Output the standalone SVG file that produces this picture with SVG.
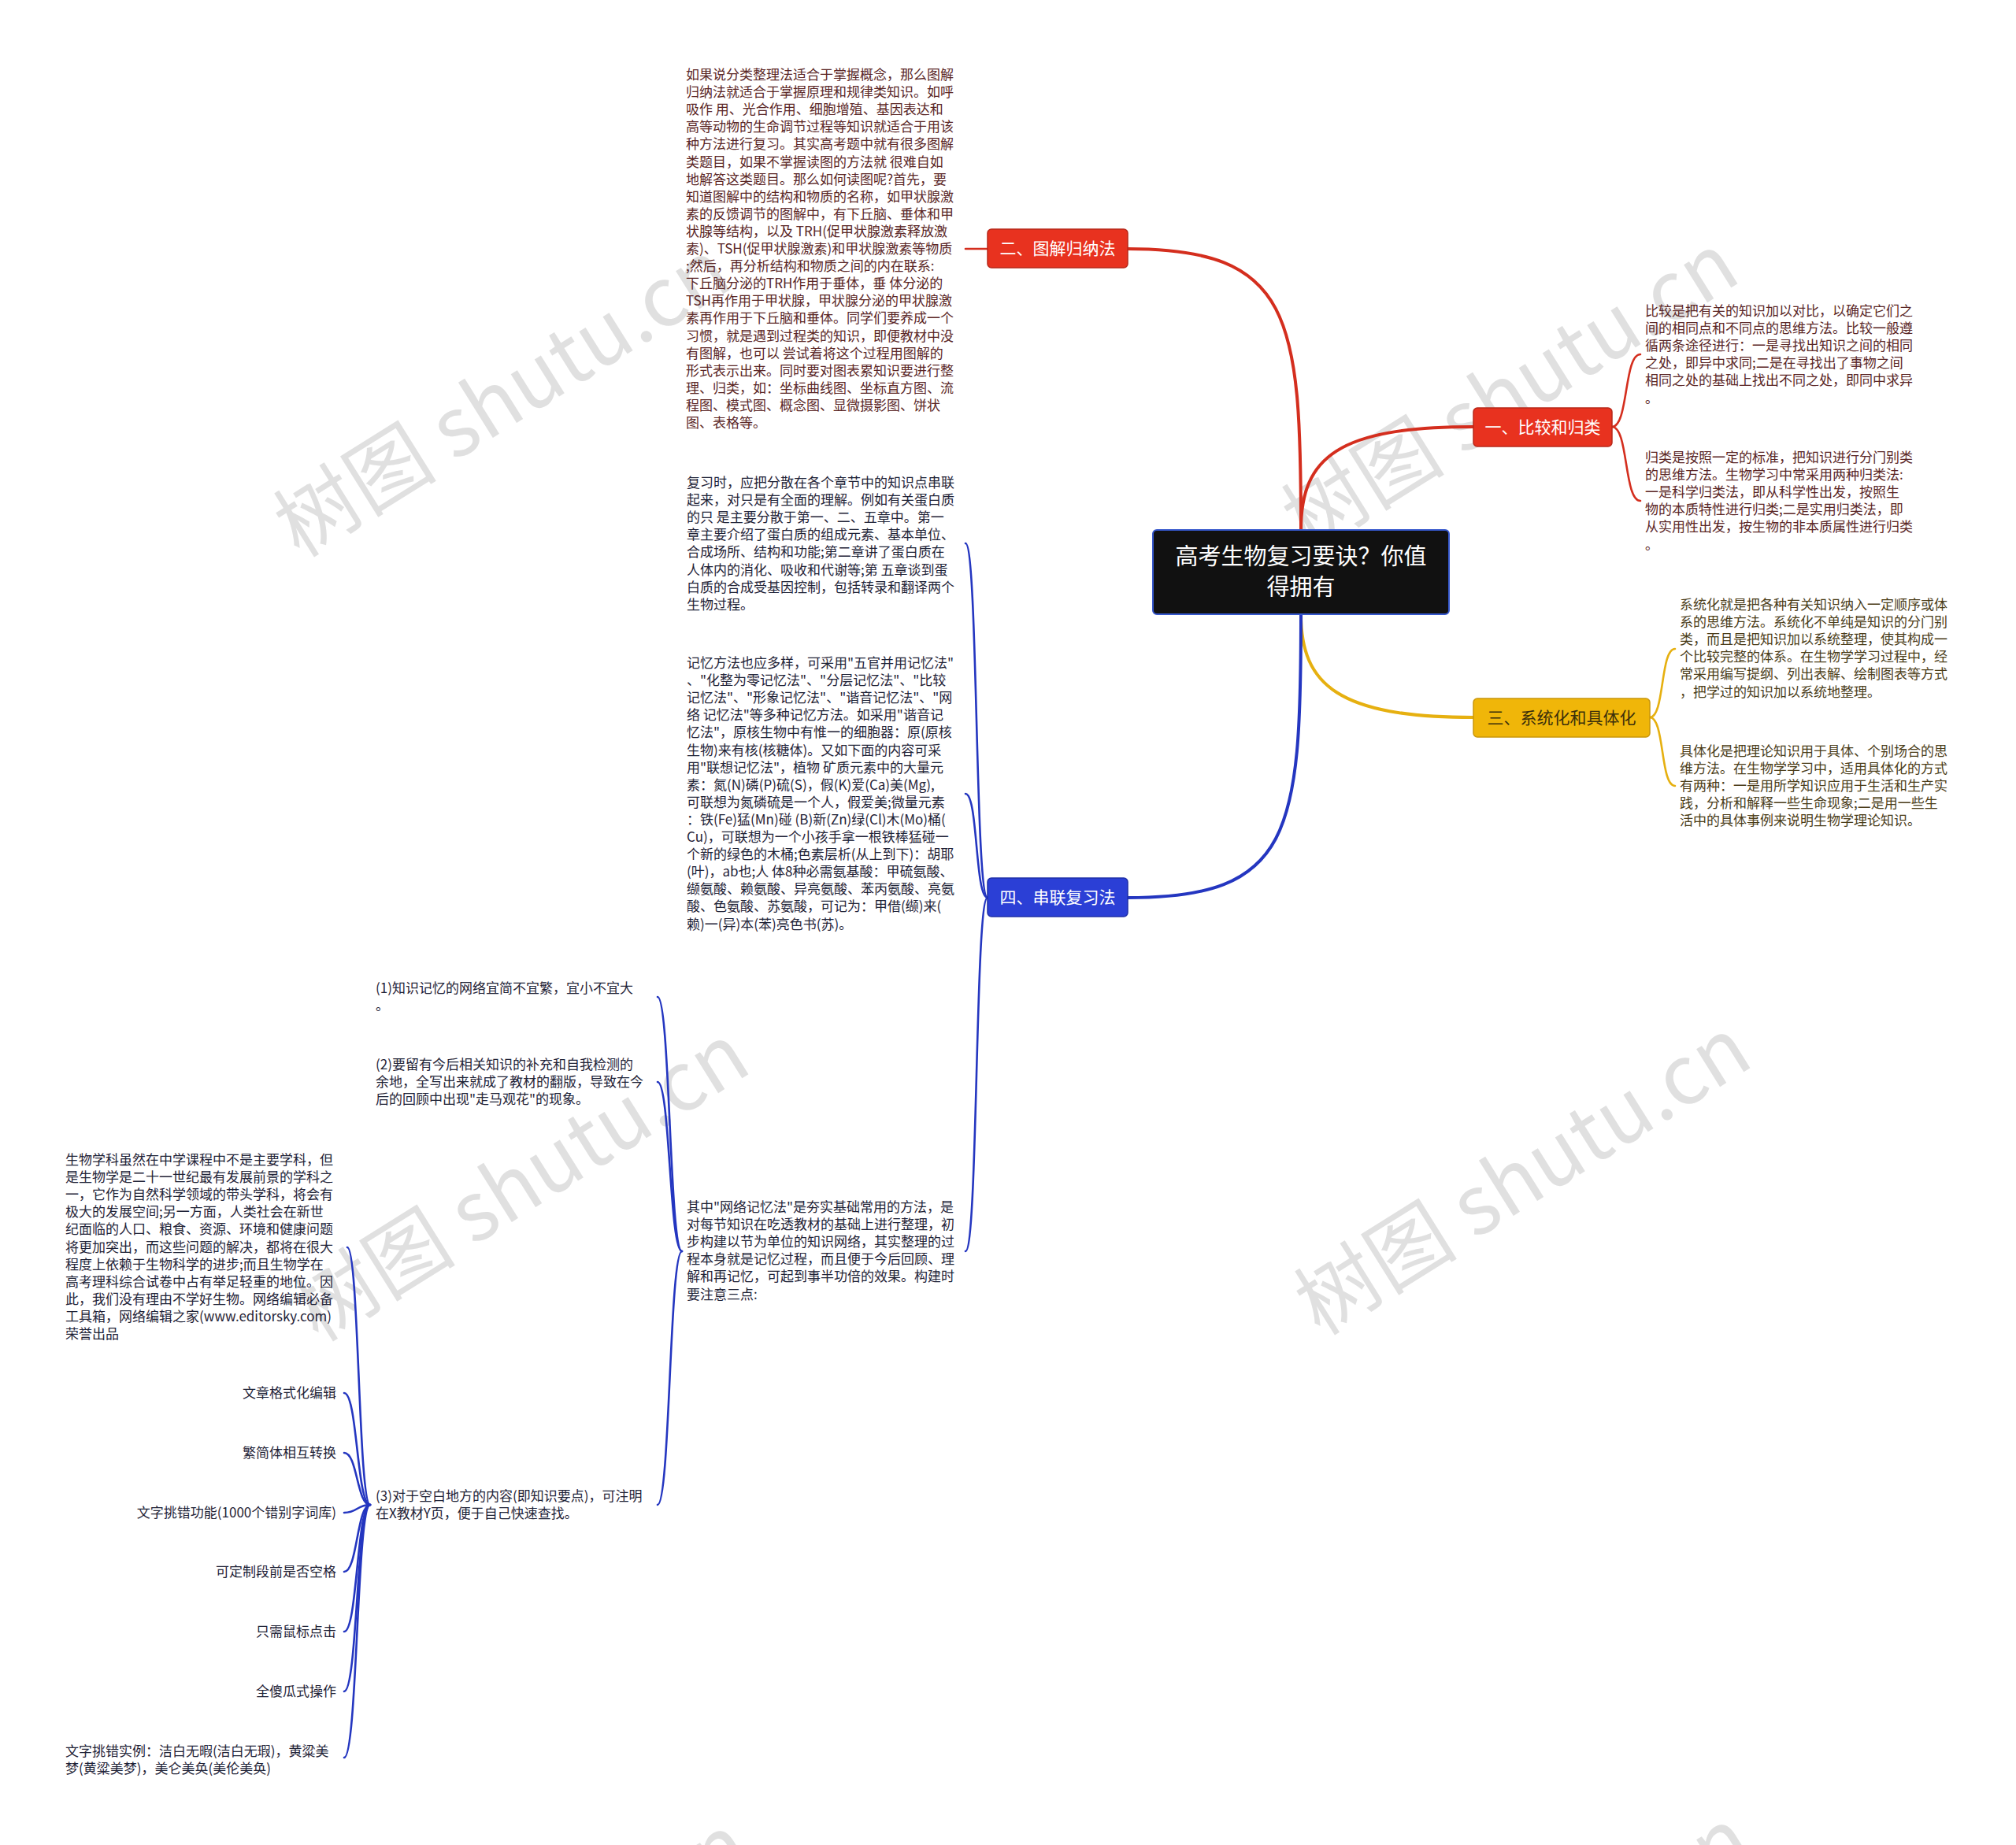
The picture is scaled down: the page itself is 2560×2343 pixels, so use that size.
<svg xmlns="http://www.w3.org/2000/svg" width="2560" height="2343" viewBox="0 0 2560 2343">
<style>
.t{font-family:"Noto Sans CJK SC","Noto Sans",sans-serif;font-size:17px}
.tr{fill:#5a2626}.ty{fill:#4a3c18}.tb{fill:#1f2337}
.wm{font-family:"Noto Sans CJK SC","Noto Sans",sans-serif;font-size:104px;fill:#e0e0e0;text-anchor:middle}
.nt{font-family:"Noto Sans CJK SC","Noto Sans",sans-serif;font-size:21px;text-anchor:middle}
.c{fill:none;stroke-linecap:round}
.red{stroke:#d42e1e}.yel{stroke:#e6b010}.blu{stroke:#2436c0}
.main{stroke-width:4}.sub{stroke-width:2.6}
</style>
<rect width="2560" height="2343" fill="#ffffff"/>
<g id="watermarks">
<text class="wm" transform="translate(638,506) rotate(-32)" y="36">树图 shutu.cn</text>
<text class="wm" transform="translate(1918,498) rotate(-32)" y="36">树图 shutu.cn</text>
<text class="wm" transform="translate(662,1502) rotate(-32)" y="36">树图 shutu.cn</text>
<text class="wm" transform="translate(1934,1494) rotate(-32)" y="36">树图 shutu.cn</text>
<text class="wm" transform="translate(662,2506) rotate(-32)" y="36">树图 shutu.cn</text>
<text class="wm" transform="translate(1934,2498) rotate(-32)" y="36">树图 shutu.cn</text>
</g>
<g id="connectors">
<path class="c red main" d="M1652,673 C1652,400 1640,316 1432,316"/>
<path class="c red main" d="M1652,673 C1652,580 1700,542 1871,542"/>
<path class="c yel main" d="M1652,780 C1652,870 1700,911 1871,911"/>
<path class="c blu main" d="M1652,780 C1652,1060 1640,1140 1432,1140"/>
<path class="c red sub" d="M1254,316 L1226,316"/>
<path class="c red sub" d="M2047,542 C2068,542 2062,450 2083,450"/>
<path class="c red sub" d="M2047,542 C2068,542 2062,636 2083,636"/>
<path class="c yel sub" d="M2095,911 C2114,911 2108,824 2127,824"/>
<path class="c yel sub" d="M2095,911 C2114,911 2108,998 2127,998"/>
<path class="c blu sub" d="M1254,1140 C1238,1140 1242,690 1226,690"/>
<path class="c blu sub" d="M1254,1140 C1238,1140 1242,1008 1226,1008"/>
<path class="c blu sub" d="M1254,1140 C1238,1140 1242,1589 1226,1589"/>
<path class="c blu sub" d="M866,1589 C850,1589 851,1266 835,1266"/>
<path class="c blu sub" d="M866,1589 C850,1589 851,1374 835,1374"/>
<path class="c blu sub" d="M866,1589 C850,1589 851,1911 835,1911"/>
<path class="c blu sub" d="M470,1911 C455,1911 456,1584 441,1584"/>
<path class="c blu sub" d="M470,1911 C453,1911 454,1769 437,1769"/>
<path class="c blu sub" d="M470,1911 C453,1911 454,1845 437,1845"/>
<path class="c blu sub" d="M470,1911 C453,1911 454,1921 437,1921"/>
<path class="c blu sub" d="M470,1911 C453,1911 454,1996 437,1996"/>
<path class="c blu sub" d="M470,1911 C453,1911 454,2072 437,2072"/>
<path class="c blu sub" d="M470,1911 C453,1911 454,2148 437,2148"/>
<path class="c blu sub" d="M470,1911 C453,1911 454,2232 437,2232"/>
</g>
<g id="root">
<rect x="1464" y="673" width="376" height="107" rx="5" fill="#111111" stroke="#3557cc" stroke-width="2"/>
<text font-family="Noto Sans CJK SC, Noto Sans, sans-serif" font-size="29" fill="#ffffff" text-anchor="middle"><tspan x="1652" y="717">高考生物复习要诀？你值</tspan><tspan x="1652" y="756">得拥有</tspan></text>
</g>
<g id="n2">
<rect x="1254" y="291" width="178" height="49" rx="5" fill="#e8321f" stroke="#b8281a" stroke-width="1.5"/>
<text class="nt" x="1343" y="323" fill="#ffffff">二、图解归纳法</text>
</g>
<g id="n1">
<rect x="1871" y="518" width="176" height="49" rx="5" fill="#e8321f" stroke="#b8281a" stroke-width="1.5"/>
<text class="nt" x="1959" y="550" fill="#ffffff">一、比较和归类</text>
</g>
<g id="n3">
<rect x="1871" y="887" width="224" height="49" rx="5" fill="#f0b609" stroke="#c9960a" stroke-width="1.5"/>
<text class="nt" x="1983" y="919" fill="#3b2f0b">三、系统化和具体化</text>
</g>
<g id="n4">
<rect x="1254" y="1115" width="178" height="49" rx="5" fill="#2b3fd6" stroke="#1f2fa8" stroke-width="1.5"/>
<text class="nt" x="1343" y="1147" fill="#ffffff">四、串联复习法</text>
</g>
<g id="n2-text">
<text class="t tr">
<tspan x="871" y="101">如果说分类整理法适合于掌握概念，那么图解</tspan>
<tspan x="871" dy="22.1">归纳法就适合于掌握原理和规律类知识。如呼</tspan>
<tspan x="871" dy="22.1">吸作 用、光合作用、细胞增殖、基因表达和</tspan>
<tspan x="871" dy="22.1">高等动物的生命调节过程等知识就适合于用该</tspan>
<tspan x="871" dy="22.1">种方法进行复习。其实高考题中就有很多图解</tspan>
<tspan x="871" dy="22.1">类题目，如果不掌握读图的方法就 很难自如</tspan>
<tspan x="871" dy="22.1">地解答这类题目。那么如何读图呢?首先，要</tspan>
<tspan x="871" dy="22.1">知道图解中的结构和物质的名称，如甲状腺激</tspan>
<tspan x="871" dy="22.1">素的反馈调节的图解中，有下丘脑、垂体和甲</tspan>
<tspan x="871" dy="22.1">状腺等结构，以及 TRH(促甲状腺激素释放激</tspan>
<tspan x="871" dy="22.1">素)、TSH(促甲状腺激素)和甲状腺激素等物质</tspan>
<tspan x="871" dy="22.1">;然后，再分析结构和物质之间的内在联系:</tspan>
<tspan x="871" dy="22.1">下丘脑分泌的TRH作用于垂体，垂 体分泌的</tspan>
<tspan x="871" dy="22.1">TSH再作用于甲状腺，甲状腺分泌的甲状腺激</tspan>
<tspan x="871" dy="22.1">素再作用于下丘脑和垂体。同学们要养成一个</tspan>
<tspan x="871" dy="22.1">习惯，就是遇到过程类的知识，即便教材中没</tspan>
<tspan x="871" dy="22.1">有图解，也可以 尝试着将这个过程用图解的</tspan>
<tspan x="871" dy="22.1">形式表示出来。同时要对图表累知识要进行整</tspan>
<tspan x="871" dy="22.1">理、归类，如：坐标曲线图、坐标直方图、流</tspan>
<tspan x="871" dy="22.1">程图、模式图、概念图、显微摄影图、饼状</tspan>
<tspan x="871" dy="22.1">图、表格等。</tspan>
</text>
</g>
<g id="n1-text1">
<text class="t tr">
<tspan x="2089" y="401">比较是把有关的知识加以对比，以确定它们之</tspan>
<tspan x="2089" dy="22.1">间的相同点和不同点的思维方法。比较一般遵</tspan>
<tspan x="2089" dy="22.1">循两条途径进行：一是寻找出知识之间的相同</tspan>
<tspan x="2089" dy="22.1">之处，即异中求同;二是在寻找出了事物之间</tspan>
<tspan x="2089" dy="22.1">相同之处的基础上找出不同之处，即同中求异</tspan>
<tspan x="2089" dy="22.1">。</tspan>
</text>
</g>
<g id="n1-text2">
<text class="t tr">
<tspan x="2089" y="587">归类是按照一定的标准，把知识进行分门别类</tspan>
<tspan x="2089" dy="22.1">的思维方法。生物学习中常采用两种归类法:</tspan>
<tspan x="2089" dy="22.1"> 一是科学归类法，即从科学性出发，按照生</tspan>
<tspan x="2089" dy="22.1">物的本质特性进行归类;二是实用归类法，即</tspan>
<tspan x="2089" dy="22.1">从实用性出发，按生物的非本质属性进行归类</tspan>
<tspan x="2089" dy="22.1">。</tspan>
</text>
</g>
<g id="n3-text1">
<text class="t ty">
<tspan x="2133" y="774">系统化就是把各种有关知识纳入一定顺序或体</tspan>
<tspan x="2133" dy="22.1">系的思维方法。系统化不单纯是知识的分门别</tspan>
<tspan x="2133" dy="22.1">类，而且是把知识加以系统整理，使其构成一</tspan>
<tspan x="2133" dy="22.1">个比较完整的体系。在生物学学习过程中，经</tspan>
<tspan x="2133" dy="22.1">常采用编写提纲、列出表解、绘制图表等方式</tspan>
<tspan x="2133" dy="22.1">，把学过的知识加以系统地整理。</tspan>
</text>
</g>
<g id="n3-text2">
<text class="t ty">
<tspan x="2133" y="960">具体化是把理论知识用于具体、个别场合的思</tspan>
<tspan x="2133" dy="22.1">维方法。在生物学学习中，适用具体化的方式</tspan>
<tspan x="2133" dy="22.1">有两种：一是用所学知识应用于生活和生产实</tspan>
<tspan x="2133" dy="22.1">践，分析和解释一些生命现象;二是用一些生</tspan>
<tspan x="2133" dy="22.1">活中的具体事例来说明生物学理论知识。</tspan>
</text>
</g>
<g id="n4-text1">
<text class="t tb">
<tspan x="872" y="619">复习时，应把分散在各个章节中的知识点串联</tspan>
<tspan x="872" dy="22.1">起来，对只是有全面的理解。例如有关蛋白质</tspan>
<tspan x="872" dy="22.1">的只 是主要分散于第一、二、五章中。第一</tspan>
<tspan x="872" dy="22.1">章主要介绍了蛋白质的组成元素、基本单位、</tspan>
<tspan x="872" dy="22.1">合成场所、结构和功能;第二章讲了蛋白质在</tspan>
<tspan x="872" dy="22.1">人体内的消化、吸收和代谢等;第 五章谈到蛋</tspan>
<tspan x="872" dy="22.1">白质的合成受基因控制，包括转录和翻译两个</tspan>
<tspan x="872" dy="22.1">生物过程。</tspan>
</text>
</g>
<g id="n4-text2">
<text class="t tb">
<tspan x="872" y="848">记忆方法也应多样，可采用"五官并用记忆法"</tspan>
<tspan x="872" dy="22.1">、"化整为零记忆法"、"分层记忆法"、"比较</tspan>
<tspan x="872" dy="22.1">记忆法"、"形象记忆法"、"谐音记忆法"、"网</tspan>
<tspan x="872" dy="22.1">络 记忆法"等多种记忆方法。如采用"谐音记</tspan>
<tspan x="872" dy="22.1">忆法"，原核生物中有惟一的细胞器：原(原核</tspan>
<tspan x="872" dy="22.1">生物)来有核(核糖体)。又如下面的内容可采</tspan>
<tspan x="872" dy="22.1">用"联想记忆法"，植物 矿质元素中的大量元</tspan>
<tspan x="872" dy="22.1">素：氮(N)磷(P)硫(S)，假(K)爱(Ca)美(Mg),</tspan>
<tspan x="872" dy="22.1">可联想为氮磷硫是一个人，假爱美;微量元素</tspan>
<tspan x="872" dy="22.1">：铁(Fe)猛(Mn)碰 (B)新(Zn)绿(Cl)木(Mo)桶(</tspan>
<tspan x="872" dy="22.1">Cu)，可联想为一个小孩手拿一根铁棒猛碰一</tspan>
<tspan x="872" dy="22.1">个新的绿色的木桶;色素层析(从上到下)：胡耶</tspan>
<tspan x="872" dy="22.1">(叶)，ab也;人 体8种必需氨基酸：甲硫氨酸、</tspan>
<tspan x="872" dy="22.1">缬氨酸、赖氨酸、异亮氨酸、苯丙氨酸、亮氨</tspan>
<tspan x="872" dy="22.1">酸、色氨酸、苏氨酸，可记为：甲借(缬)来(</tspan>
<tspan x="872" dy="22.1">赖)一(异)本(苯)亮色书(苏)。</tspan>
</text>
</g>
<g id="n4-text3">
<text class="t tb">
<tspan x="872" y="1539">其中"网络记忆法"是夯实基础常用的方法，是</tspan>
<tspan x="872" dy="22.1">对每节知识在吃透教材的基础上进行整理，初</tspan>
<tspan x="872" dy="22.1">步构建以节为单位的知识网络，其实整理的过</tspan>
<tspan x="872" dy="22.1">程本身就是记忆过程，而且便于今后回顾、理</tspan>
<tspan x="872" dy="22.1">解和再记忆，可起到事半功倍的效果。构建时</tspan>
<tspan x="872" dy="22.1">要注意三点:</tspan>
</text>
</g>
<g id="p1">
<text class="t tb"><tspan x="477" y="1261">(1)知识记忆的网络宜简不宜繁，宜小不宜大</tspan><tspan x="477" dy="22.1">。</tspan></text>
</g>
<g id="p2">
<text class="t tb"><tspan x="477" y="1358">(2)要留有今后相关知识的补充和自我检测的</tspan><tspan x="477" dy="22.1">余地，全写出来就成了教材的翻版，导致在今</tspan><tspan x="477" dy="22.1">后的回顾中出现"走马观花"的现象。</tspan></text>
</g>
<g id="p3">
<text class="t tb"><tspan x="477" y="1906">(3)对于空白地方的内容(即知识要点)，可注明</tspan><tspan x="477" dy="22.1">在X教材Y页，便于自己快速查找。</tspan></text>
</g>
<g id="p3-intro">
<text class="t tb">
<tspan x="83" y="1479">生物学科虽然在中学课程中不是主要学科，但</tspan>
<tspan x="83" dy="22.1">是生物学是二十一世纪最有发展前景的学科之</tspan>
<tspan x="83" dy="22.1">一，它作为自然科学领域的带头学科，将会有</tspan>
<tspan x="83" dy="22.1">极大的发展空间;另一方面，人类社会在新世</tspan>
<tspan x="83" dy="22.1">纪面临的人口、粮食、资源、环境和健康问题</tspan>
<tspan x="83" dy="22.1">将更加突出，而这些问题的解决，都将在很大</tspan>
<tspan x="83" dy="22.1">程度上依赖于生物科学的进步;而且生物学在</tspan>
<tspan x="83" dy="22.1">高考理科综合试卷中占有举足轻重的地位。因</tspan>
<tspan x="83" dy="22.1">此，我们没有理由不学好生物。网络编辑必备</tspan>
<tspan x="83" dy="22.1">工具箱，网络编辑之家(www.editorsky.com)</tspan>
<tspan x="83" dy="22.1">荣誉出品</tspan>
</text>
</g>
<g id="i1"><text class="t tb" x="427" y="1775" text-anchor="end">文章格式化编辑</text></g>
<g id="i2"><text class="t tb" x="427" y="1851" text-anchor="end">繁简体相互转换</text></g>
<g id="i3"><text class="t tb" x="427" y="1927" text-anchor="end">文字挑错功能(1000个错别字词库)</text></g>
<g id="i4"><text class="t tb" x="427" y="2002" text-anchor="end">可定制段前是否空格</text></g>
<g id="i5"><text class="t tb" x="427" y="2078" text-anchor="end">只需鼠标点击</text></g>
<g id="i6"><text class="t tb" x="427" y="2154" text-anchor="end">全傻瓜式操作</text></g>
<g id="i7"><text class="t tb"><tspan x="83" y="2230">文字挑错实例：洁白无暇(洁白无瑕)，黄粱美</tspan><tspan x="83" dy="22.1">梦(黄粱美梦)，美仑美奂(美伦美奂)</tspan></text></g>
</svg>
